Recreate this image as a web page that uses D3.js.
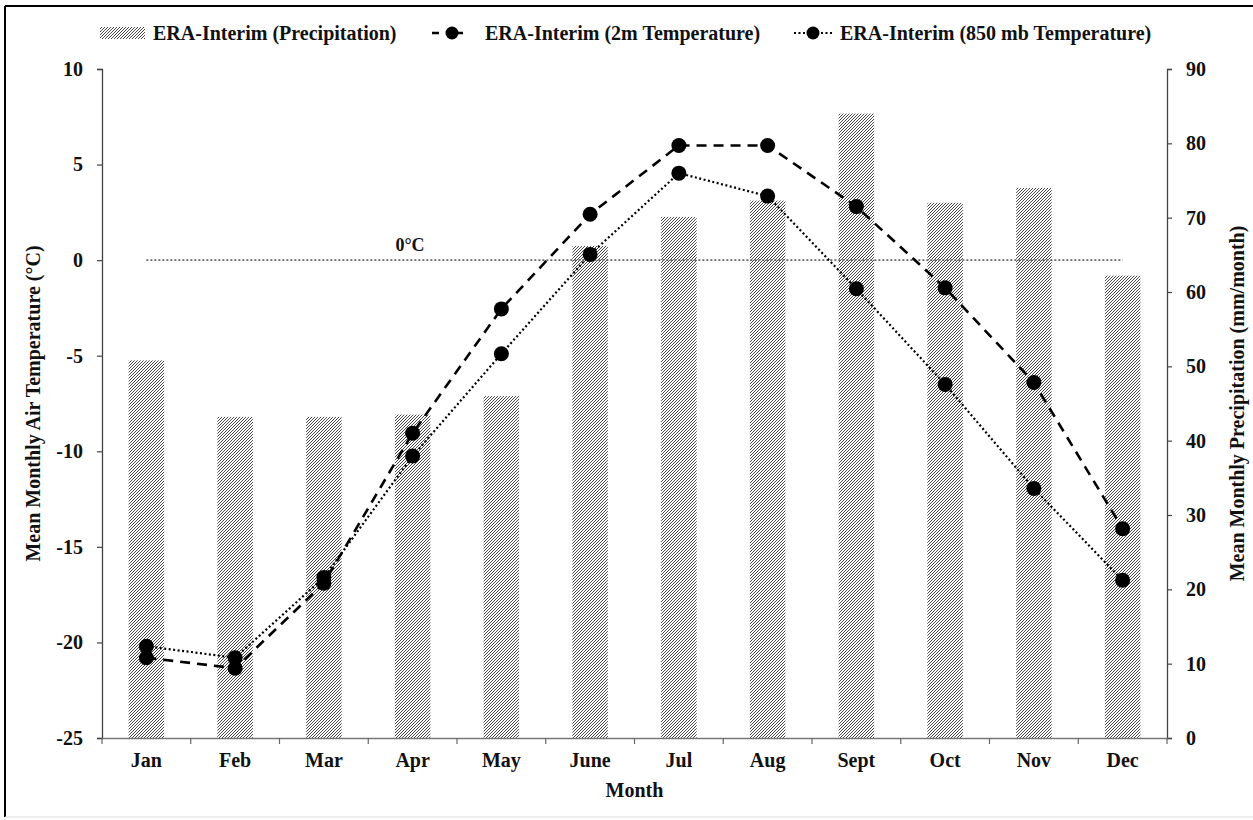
<!DOCTYPE html>
<html>
<head>
<meta charset="utf-8">
<script src="https://cdn.jsdelivr.net/npm/d3@7"></script>
<style>
  body { margin: 0; background: #fff; }
  svg text { font-family: "Liberation Serif", "Times New Roman", serif; font-weight: bold; fill: #111; }
</style>
</head>
<body>
<div id="chart"></div>
<script>
// data
var months = ['Jan', 'Feb', 'Mar', 'Apr', 'May', 'June', 'Jul', 'Aug', 'Sept', 'Oct', 'Nov', 'Dec'];
var precip = [50.8, 43.2, 43.2, 43.5, 46.0, 66.2, 70.1, 72.3, 84.0, 72.0, 74.0, 62.2]; // mm/month
var temp2m = [-20.8, -21.35, -16.9, -9.05, -2.55, 2.4, 6.0, 6.0, 2.8, -1.45, -6.4, -14.05]; // deg C
var temp850 = [-20.2, -20.8, -16.6, -10.25, -4.9, 0.3, 4.55, 3.35, -1.5, -6.5, -11.95, -16.75]; // deg C
var tempTicks = [-25, -20, -15, -10, -5, 0, 5, 10];
var precipTicks = [0, 10, 20, 30, 40, 50, 60, 70, 80, 90];

var W = 1253, H = 820;
var m = {left: 102, right: 1167, top: 69, bottom: 738};
var fs = '20px';

var svg = d3.select('#chart').append('svg')
    .attr('width', W)
    .attr('height', H);

// hatch pattern for the bars
var defs = svg.append('defs');
var pat = defs.append('pattern')
    .attr('id', 'hatch')
    .attr('patternUnits', 'userSpaceOnUse')
    .attr('width', 3)
    .attr('height', 3);
pat.append('rect').attr('width', 3).attr('height', 3).attr('fill', '#fff');
pat.append('path')
    .attr('d', 'M-1,1 l2,-2 M0,3 l3,-3 M2,4 l2,-2')
    .attr('stroke', '#4a4a4a')
    .attr('stroke-width', 1);

// frame round the figure
svg.append('line').attr('x1', 5).attr('x2', 1253).attr('y1', 6).attr('y2', 6).attr('stroke', '#000').attr('stroke-width', 2);
svg.append('line').attr('x1', 5).attr('x2', 5).attr('y1', 6).attr('y2', 817).attr('stroke', '#000').attr('stroke-width', 2);
svg.append('line').attr('x1', 5).attr('x2', 1253).attr('y1', 817).attr('y2', 817).attr('stroke', '#ddd').attr('stroke-width', 1);

// scales
var x = d3.scaleBand().domain(months).range([m.left, m.right]).padding(0);
var yT = d3.scaleLinear().domain([-25, 10]).range([m.bottom, m.top]);
var yP = d3.scaleLinear().domain([0, 90]).range([m.bottom, m.top]);
var cx = function(d, i){ return x(months[i]) + x.bandwidth() / 2; };
var barW = x.bandwidth() * 0.4;

// bars
svg.append('g').selectAll('rect')
    .data(precip)
    .join('rect')
    .attr('x', (d, i) => cx(d, i) - barW / 2)
    .attr('y', d => yP(d))
    .attr('width', barW)
    .attr('height', d => yP(0) - yP(d))
    .attr('fill', 'url(#hatch)');

// 0 degree line
svg.append('line')
    .attr('x1', cx(0, 0)).attr('x2', cx(0, 11))
    .attr('y1', yT(0)).attr('y2', yT(0))
    .attr('stroke', '#666')
    .attr('stroke-width', 1.6)
    .attr('stroke-dasharray', '2,2');
svg.append('text')
    .attr('x', 410).attr('y', yT(0) - 9)
    .attr('text-anchor', 'middle')
    .style('font-size', '18px')
    .text('0°C');

// axes
var axisColor = '#444';
var hyphen = d => String(d);
var leftAxis = svg.append('g')
    .attr('transform', 'translate(' + m.left + ',0)')
    .call(d3.axisLeft(yT).tickValues(tempTicks).tickSize(5).tickPadding(14).tickFormat(hyphen));
var rightAxis = svg.append('g')
    .attr('transform', 'translate(' + m.right + ',0)')
    .call(d3.axisRight(yP).tickValues(precipTicks).tickSize(5).tickPadding(14).tickFormat(hyphen));
var bottomAxis = svg.append('g')
    .attr('transform', 'translate(0,' + m.bottom + ')')
    .call(d3.axisBottom(x).tickSize(0).tickPadding(15));

[leftAxis, rightAxis, bottomAxis].forEach(function(a){
    a.select('.domain').attr('stroke', axisColor).attr('stroke-width', 1.3);
    a.selectAll('.tick line').attr('stroke', axisColor).attr('stroke-width', 1.2);
    a.selectAll('text')
        .style('font-family', '"Liberation Serif", "Times New Roman", serif')
        .style('font-weight', 'bold')
        .style('font-size', fs)
        .attr('fill', '#111');
});
bottomAxis.select('.domain').attr('stroke', '#777');

// x ticks sit at the edges of each month
var edges = months.map(mo => x(mo)).concat([m.right]);
svg.append('g').selectAll('line')
    .data(edges)
    .join('line')
    .attr('x1', d => d).attr('x2', d => d)
    .attr('y1', m.bottom).attr('y2', m.bottom + 6)
    .attr('stroke', '#666')
    .attr('stroke-width', 1.2);

// axis titles
svg.append('text')
    .attr('transform', 'translate(40,' + ((m.top + m.bottom) / 2) + ') rotate(-90)')
    .attr('text-anchor', 'middle')
    .style('font-size', fs)
    .text('Mean Monthly Air Temperature (°C)');
svg.append('text')
    .attr('transform', 'translate(1244,' + ((m.top + m.bottom) / 2) + ') rotate(-90)')
    .attr('text-anchor', 'middle')
    .style('font-size', fs)
    .text('Mean Monthly Precipitation (mm/month)');
svg.append('text')
    .attr('x', (m.left + m.right) / 2).attr('y', 797)
    .attr('text-anchor', 'middle')
    .style('font-size', fs)
    .text('Month');

// temperature lines
var line2m = d3.line().x((d, i) => cx(d, i)).y(d => yT(d));
svg.append('path')
    .attr('d', line2m(temp2m))
    .attr('fill', 'none')
    .attr('stroke', '#000')
    .attr('stroke-width', 2.6)
    .attr('stroke-dasharray', '10,7');
svg.append('path')
    .attr('d', line2m(temp850))
    .attr('fill', 'none')
    .attr('stroke', '#000')
    .attr('stroke-width', 2.2)
    .attr('stroke-dasharray', '2,2.5');

[temp2m, temp850].forEach(function(s){
    svg.append('g').selectAll('circle')
        .data(s)
        .join('circle')
        .attr('cx', (d, i) => cx(d, i))
        .attr('cy', d => yT(d))
        .attr('r', 7.5)
        .attr('fill', '#000');
});

// legend
var lg = svg.append('g');
var ly = 33;
lg.append('rect').attr('x', 100).attr('y', ly - 6).attr('width', 45).attr('height', 12).attr('fill', 'url(#hatch)');
lg.append('text').attr('x', 153).attr('y', ly + 7).style('font-size', fs).text('ERA-Interim (Precipitation)');

lg.append('line').attr('x1', 432).attr('x2', 471).attr('y1', ly).attr('y2', ly)
    .attr('stroke', '#000').attr('stroke-width', 2.6).attr('stroke-dasharray', '7,17');
lg.append('circle').attr('cx', 452).attr('cy', ly).attr('r', 6.5).attr('fill', '#000');
lg.append('text').attr('x', 485).attr('y', ly + 7).style('font-size', fs).text('ERA-Interim (2m Temperature)');

lg.append('line').attr('x1', 794).attr('x2', 833).attr('y1', ly).attr('y2', ly)
    .attr('stroke', '#000').attr('stroke-width', 2.2).attr('stroke-dasharray', '2,2.5');
lg.append('circle').attr('cx', 813).attr('cy', ly).attr('r', 6.5).attr('fill', '#000');
lg.append('text').attr('x', 840).attr('y', ly + 7).style('font-size', fs).text('ERA-Interim (850 mb Temperature)');
</script>
</body>
</html>
